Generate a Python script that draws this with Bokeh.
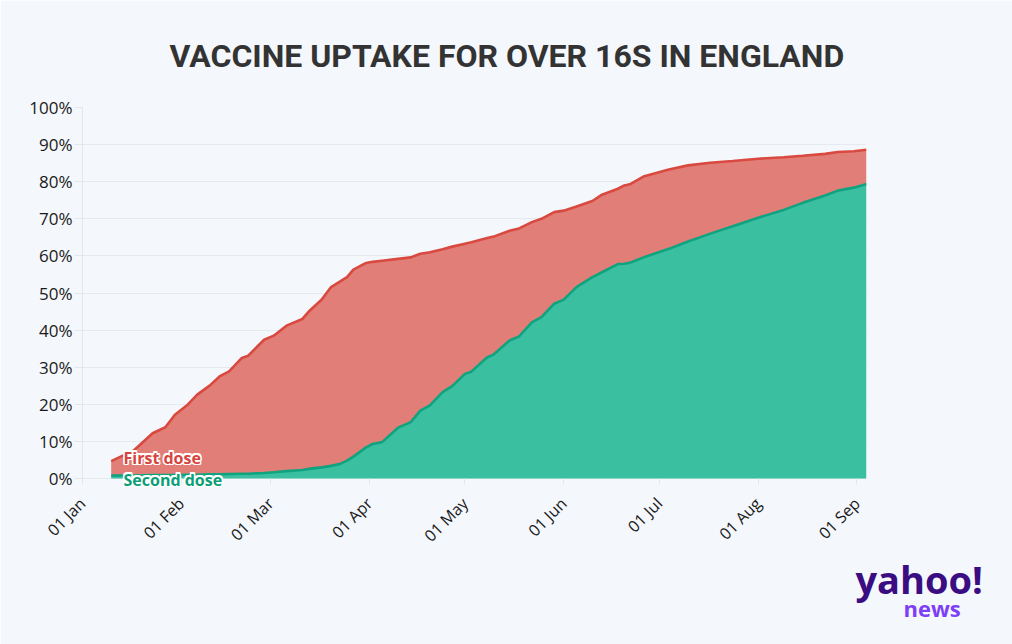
import datetime as dt
from bokeh.plotting import figure
from bokeh.models import (Range1d, Label, FixedTicker, DatetimeTickFormatter,
                          PrintfTickFormatter, ColumnDataSource, Title)
from bokeh.embed import file_html
from bokeh.resources import INLINE

# ---------------- data ----------------
dates = ["2021-01-10", "2021-01-17", "2021-01-23", "2021-01-27", "2021-01-30",
         "2021-02-03", "2021-02-06", "2021-02-10", "2021-02-13", "2021-02-16",
         "2021-02-20", "2021-02-22", "2021-02-27", "2021-03-02", "2021-03-06",
         "2021-03-11", "2021-03-13", "2021-03-17", "2021-03-20", "2021-03-23",
         "2021-03-25", "2021-03-27", "2021-03-31", "2021-04-02", "2021-04-05",
         "2021-04-10", "2021-04-14", "2021-04-17", "2021-04-20", "2021-04-24",
         "2021-04-27", "2021-05-01", "2021-05-03", "2021-05-08", "2021-05-10",
         "2021-05-15", "2021-05-18", "2021-05-22", "2021-05-25", "2021-05-29",
         "2021-06-01", "2021-06-05", "2021-06-10", "2021-06-13", "2021-06-18",
         "2021-06-20", "2021-06-22", "2021-06-26", "2021-07-04", "2021-07-10",
         "2021-07-17", "2021-07-24", "2021-08-01", "2021-08-09", "2021-08-15",
         "2021-08-22", "2021-08-26", "2021-08-31", "2021-09-04"]
first_dose = [4.7, 7.5, 12.2, 13.8, 17.2,
              19.9, 22.6, 25.1, 27.5, 28.9,
              32.5, 33.1, 37.4, 38.5, 41.2,
              43.0, 45.0, 48.2, 51.6, 53.2,
              54.3, 56.3, 58.1, 58.4, 58.7,
              59.2, 59.6, 60.6, 61.0, 61.8,
              62.5, 63.3, 63.7, 64.8, 65.2,
              66.8, 67.4, 69.1, 70.0, 71.8,
              72.2, 73.3, 74.8, 76.5, 78.1,
              79.0, 79.4, 81.4, 83.3, 84.4,
              85.1, 85.6, 86.2, 86.6, 87.0,
              87.5, 88.0, 88.2, 88.6]
second_dose = [0.8, 0.8, 0.9, 0.9, 0.9,
               1.0, 1.0, 1.1, 1.1, 1.2,
               1.3, 1.3, 1.5, 1.7, 2.0,
               2.3, 2.6, 3.0, 3.4, 4.0,
               4.8, 5.9, 8.4, 9.3, 9.8,
               13.7, 15.2, 18.3, 19.7, 23.3,
               24.9, 28.2, 28.8, 32.7, 33.4,
               37.2, 38.3, 42.1, 43.5, 47.1,
               48.2, 51.6, 54.3, 55.6, 57.8,
               57.9, 58.2, 59.6, 61.9, 63.9,
               66.0, 68.0, 70.3, 72.4, 74.3,
               76.3, 77.6, 78.4, 79.4]
y_ticks = [0, 10, 20, 30, 40, 50, 60, 70, 80, 90, 100]
month_ticks = ["2021-01-01", "2021-02-01", "2021-03-01", "2021-04-01", "2021-05-01",
               "2021-06-01", "2021-07-01", "2021-08-01", "2021-09-01"]
title_text = "VACCINE UPTAKE FOR OVER 16S IN ENGLAND"
series_labels = ["First dose", "Second dose"]
logo_texts = ["yahoo!", "news"]

# ---------------- helpers ----------------
EPOCH = dt.datetime(1970, 1, 1)


def ms(s):
    d = dt.datetime.strptime(s, "%Y-%m-%d")
    return (d - EPOCH).total_seconds() * 1000.0


BG = "#f4f7fb"
RED_FILL, RED_LINE = "#e17e77", "#d9493f"
GRN_FILL, GRN_LINE = "#3abfa0", "#0fa37f"

W, H = 1012, 644
FRAME_L, FRAME_R, FRAME_T, FRAME_B = 82, 866, 107, 490   # page pixels
x0, x1 = ms("2021-01-01"), ms("2021-09-04")
y1 = 100.0
y0 = -(FRAME_B - 478) / ((478 - FRAME_T) / 100.0)        # 0 % sits at y=478


def px2x(px):
    return x0 + (px - FRAME_L) / (FRAME_R - FRAME_L) * (x1 - x0)


def py2y(py):
    return y1 - (py - FRAME_T) / (FRAME_B - FRAME_T) * (y1 - y0)


src = ColumnDataSource(dict(x=[ms(d) for d in dates], f=first_dose, s=second_dose,
                            z=[0] * len(dates)))

p = figure(width=W, height=H, output_backend="svg", toolbar_location=None,
           x_axis_type="datetime", x_range=Range1d(x0, x1), y_range=Range1d(y0, y1),
           min_border_left=FRAME_L, min_border_right=W - FRAME_R,
           min_border_top=FRAME_T, min_border_bottom=H - FRAME_B)
p.background_fill_color = BG
p.border_fill_color = BG
p.outline_line_color = None

p.varea(x="x", y1="s", y2="f", source=src, fill_color=RED_FILL)
p.varea(x="x", y1="z", y2="s", source=src, fill_color=GRN_FILL)
p.line(x="x", y="f", source=src, line_color=RED_LINE, line_width=2.6)
p.line(x="x", y="s", source=src, line_color=GRN_LINE, line_width=2.6)

# axes
p.xgrid.grid_line_color = None
p.ygrid.grid_line_color = "#e6e9ee"
p.ygrid.ticker = FixedTicker(ticks=y_ticks)
p.yaxis.ticker = FixedTicker(ticks=y_ticks)
p.yaxis.formatter = PrintfTickFormatter(format="%d%%")
p.yaxis.bounds = (0, 100)
p.xaxis.ticker = FixedTicker(ticks=[ms(m) for m in month_ticks])
fmt = "%d %b"
p.xaxis.formatter = DatetimeTickFormatter(milliseconds=fmt, seconds=fmt, minsec=fmt,
                                          minutes=fmt, hourmin=fmt, hours=fmt, days=fmt,
                                          months=fmt, years=fmt)
p.xaxis.major_label_orientation = 0.7853981634
for ax in (p.xaxis, p.yaxis):
    ax.axis_line_color = "#e3e6eb"
    ax.major_tick_line_color = "#e3e6eb"
    ax.minor_tick_line_color = None
    ax.major_label_text_font = "Open Sans"
    ax.major_label_text_color = "#1a1a1a"
p.yaxis.major_tick_in = 0
p.yaxis.major_tick_out = 8
p.yaxis.major_label_text_font_size = "17px"
p.yaxis.major_label_standoff = 2
p.xaxis.axis_line_color = None
p.xaxis.major_tick_in = FRAME_B - 478
p.xaxis.major_tick_out = -(FRAME_B - 478 - 6)
p.xaxis.major_label_text_font_size = "16px"
p.xaxis.major_label_standoff = 10

# title
p.title.text = title_text
p.title.align = "left"
p.title.offset = 87
p.title.standoff = 66
p.title.text_font_size = "32px"
p.title.text_font_style = "bold"
p.title.text_color = "#333333"
p.title.text_font = "Roboto"

# logo (stacked below the x axis)
p.add_layout(Title(text=logo_texts[0], align="left", offset=773, standoff=-13,
                   text_font="Open Sans", text_font_style="bold", text_font_size="38px",
                   text_color="#3b0d82"), "below")
p.add_layout(Title(text=logo_texts[1], align="left", offset=821, standoff=-15,
                   text_font="Open Sans", text_font_style="bold", text_font_size="22px",
                   text_color="#7d3ff5"), "below")


# series labels with white halo
def halo_label(text, px, py, color):
    offs = [(-1.5, 0), (1.5, 0), (0, -1.5), (0, 1.5),
            (-1.2, -1.2), (1.2, 1.2), (-1.2, 1.2), (1.2, -1.2)]
    for dx, dy in offs:
        p.add_layout(Label(x=px2x(px), y=py2y(py), x_offset=dx, y_offset=dy, text=text,
                           text_font="Open Sans", text_font_style="bold", text_font_size="16px",
                           text_color="white", text_baseline="alphabetic", text_align="left"))
    p.add_layout(Label(x=px2x(px), y=py2y(py), text=text, text_font="Open Sans",
                       text_font_style="bold", text_font_size="16px", text_color=color,
                       text_baseline="alphabetic", text_align="left"))


halo_label(series_labels[0], 123, 457, "#d6453d")
halo_label(series_labels[1], 123, 479, "#0c9e78")

open("out.html", "w").write(file_html(p, INLINE))
